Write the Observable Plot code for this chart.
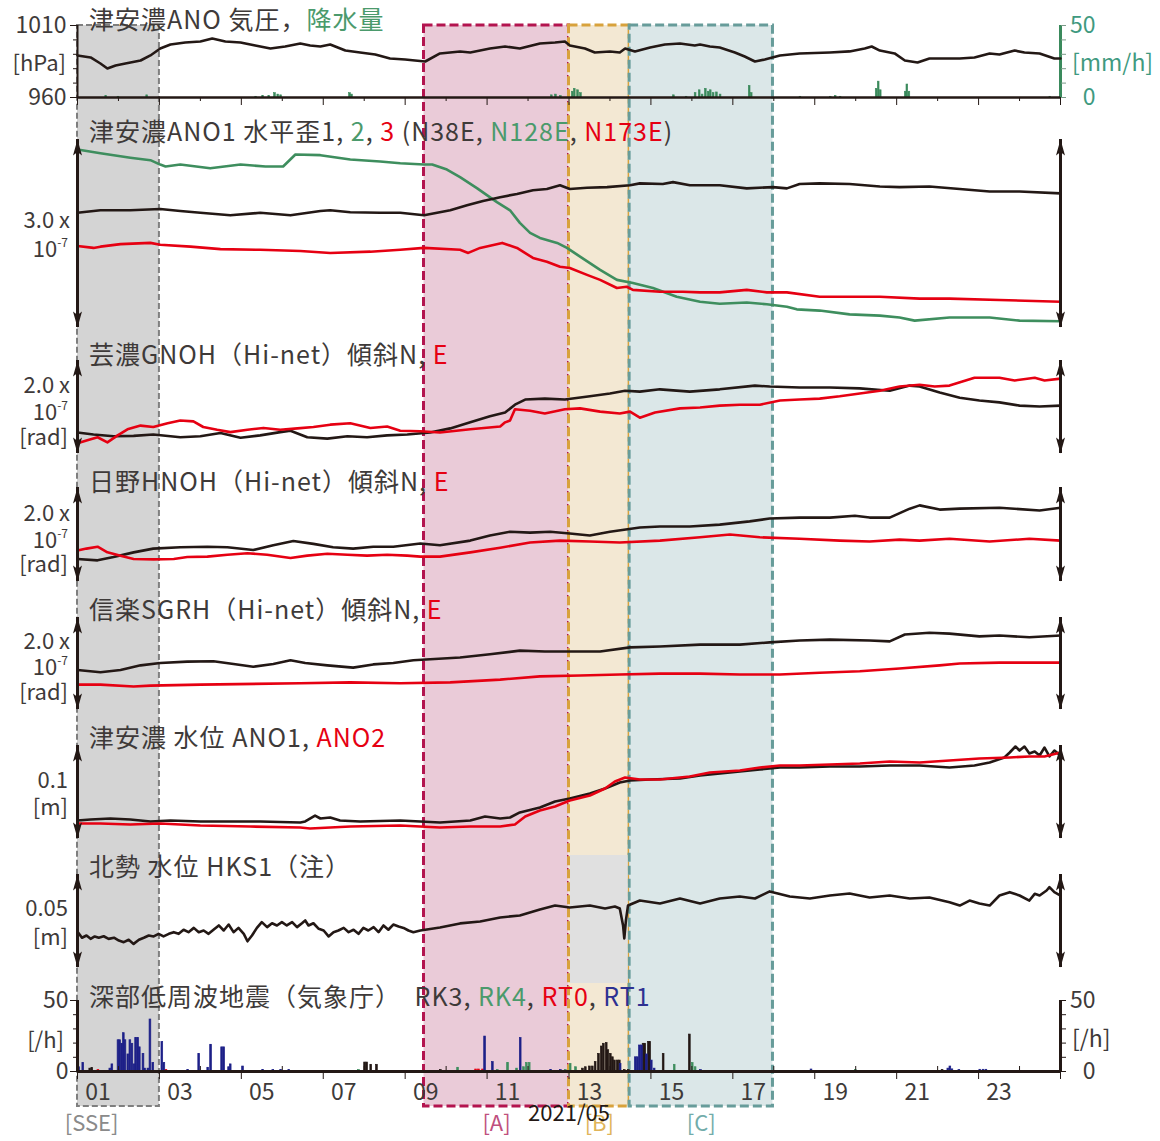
<!DOCTYPE html>
<html><head><meta charset="utf-8">
<script src="https://cdn.jsdelivr.net/npm/d3@7"></script>
<script src="https://cdn.jsdelivr.net/npm/@observablehq/plot@0.6"></script>
<style>
html,body{margin:0;padding:0;background:#fff;}
#chart{position:relative;width:1160px;height:1141px;overflow:hidden;font-family:"Noto Sans CJK JP","Noto Sans",sans-serif;color:#3e3a39;}
#chart svg{position:absolute;left:0;top:0;}
.lbl{position:absolute;white-space:nowrap;line-height:1;}
.lbl.title{letter-spacing:1px;}
.lbl sup{font-size:12px;vertical-align:baseline;position:relative;top:-10px;line-height:0;}
</style></head><body><div id="chart"></div><script>
// ---------- data (day offsets from 2021-05-01 00:00, value) ----------
const pressure = [[0,989.2],[0.32,987.8],[0.56,983.6],[0.73,980.1],[0.93,982.2],[1.17,983.6],[1.54,985.7],[1.78,989.2],[2.02,994.0],[2.27,996.8],[2.63,998.2],[3.0,998.9],[3.29,1001.0],[3.61,998.9],[3.98,998.2],[4.34,996.1],[4.71,994.0],[5.07,995.4],[5.44,997.5],[5.68,996.1],[5.93,995.4],[6.17,996.8],[6.54,992.6],[6.9,991.3],[7.27,989.9],[7.63,987.1],[8.0,986.4],[8.24,985.7],[8.49,985.0],[8.85,990.6],[9.34,991.9],[9.59,991.3],[10.07,994.0],[10.44,995.4],[10.8,994.0],[11.29,997.5],[11.66,998.2],[11.9,998.9],[12.02,996.1],[12.39,994.0],[12.63,991.3],[13.0,991.9],[13.24,991.3],[13.37,994.0],[13.61,991.9],[13.98,994.7],[14.34,996.8],[14.71,997.5],[15.07,996.1],[15.2,996.8],[15.44,995.4],[15.68,994.7],[16.05,991.3],[16.29,988.5],[16.54,985.0],[16.78,986.4],[17.15,989.2],[17.63,990.6],[18.37,991.3],[18.85,992.0],[19.22,994.0],[19.39,995.4],[19.59,992.6],[19.95,990.6],[20.2,985.7],[20.51,984.3],[20.8,987.1],[21.17,987.1],[21.54,987.1],[21.9,987.8],[22.27,990.6],[22.51,989.9],[22.88,992.6],[23.12,991.3],[23.49,990.6],[23.85,987.1],[24,987.1]];
const precipitation = [[0.68,1],[0.98,0.5],[1.68,1.5],[4.34,0.5],[4.51,1],[4.66,1],[4.8,3],[4.88,2],[4.95,1.5],[6.63,3],[6.68,2],[11.56,1.5],[11.66,2],[11.78,1],[12.07,4],[12.12,6],[12.2,5],[12.27,3],[14.54,1.5],[14.85,0.5],[15.07,3],[15.17,5],[15.24,2],[15.32,6],[15.39,4],[15.44,5],[15.51,3],[15.59,3.5],[15.68,2],[16.39,8],[16.44,3],[17.63,0.5],[18.37,0.5],[18.49,1],[18.61,0.5],[19.49,6],[19.54,11],[19.59,5],[20.2,4],[20.24,9],[20.29,4],[23.73,0.5]];

// strain (x 1e-7)
const strain1 = [[0,1.83],[0.56,1.87],[1.29,1.87],[2.02,1.89],[2.51,1.86],[3.0,1.83],[3.73,1.79],[4.46,1.83],[5.2,1.79],[5.93,1.86],[6.17,1.87],[6.66,1.84],[7.39,1.83],[7.88,1.83],[8.46,1.79],[9.1,1.87],[9.51,1.95],[9.9,2.02],[10.32,2.08],[10.73,2.13],[11.12,2.19],[11.46,2.21],[11.78,2.27],[12.02,2.21],[12.44,2.23],[12.93,2.24],[13.49,2.27],[13.73,2.30],[14.29,2.29],[14.54,2.32],[14.95,2.27],[15.68,2.27],[16.34,2.22],[16.98,2.24],[17.32,2.22],[17.63,2.29],[18.12,2.30],[18.85,2.29],[19.59,2.25],[20.07,2.24],[20.8,2.25],[21.54,2.21],[22.27,2.17],[23.0,2.17],[24,2.14]];
const strain2 = [[0,2.84],[0.56,2.78],[1.29,2.71],[1.78,2.67],[2.02,2.60],[2.15,2.57],[2.51,2.60],[3.24,2.54],[3.98,2.60],[4.59,2.57],[5.02,2.57],[5.32,2.76],[5.93,2.75],[6.66,2.68],[7.39,2.65],[7.88,2.62],[8.46,2.60],[8.66,2.60],[9.02,2.52],[9.34,2.40],[9.76,2.22],[10.24,2.0],[10.56,1.87],[10.8,1.67],[11.05,1.51],[11.29,1.43],[11.71,1.35],[11.95,1.27],[12.27,1.13],[12.76,0.92],[13.17,0.76],[13.56,0.71],[14.05,0.63],[14.63,0.49],[15.2,0.41],[15.68,0.38],[16.34,0.40],[16.83,0.37],[17.32,0.33],[17.56,0.29],[18.12,0.27],[18.85,0.21],[19.59,0.19],[20.07,0.16],[20.44,0.11],[21.29,0.16],[22.27,0.16],[23.0,0.11],[24,0.10]];
const strain3 = [[0,1.30],[0.39,1.27],[0.56,1.29],[1.05,1.33],[1.78,1.35],[2.02,1.32],[2.76,1.29],[3.49,1.25],[4.46,1.24],[5.44,1.22],[6.17,1.19],[7.15,1.21],[7.88,1.24],[8.46,1.27],[9.34,1.24],[9.54,1.19],[9.83,1.27],[10.37,1.35],[10.73,1.27],[11.12,1.11],[11.46,1.05],[11.78,0.97],[12.02,0.95],[12.44,0.84],[12.76,0.76],[13.17,0.63],[13.41,0.65],[13.56,0.60],[14.22,0.57],[14.78,0.57],[15.2,0.56],[15.68,0.56],[16.34,0.60],[16.83,0.56],[17.32,0.56],[18.12,0.49],[18.85,0.49],[19.59,0.49],[20.56,0.46],[21.29,0.46],[22.51,0.44],[24,0.41]];

// tilt (x 1e-7 rad)
const gnohN = [[0,0.45],[0.39,0.41],[0.88,0.37],[1.37,0.38],[1.85,0.41],[2.51,0.35],[3.0,0.37],[3.49,0.44],[3.98,0.34],[4.46,0.39],[4.95,0.46],[5.2,0.49],[5.61,0.35],[6.1,0.32],[6.59,0.37],[7.07,0.35],[7.56,0.39],[8.05,0.41],[8.61,0.45],[9.1,0.54],[9.59,0.67],[10.07,0.80],[10.44,0.88],[10.68,1.05],[10.93,1.16],[11.41,1.18],[11.9,1.16],[12.51,1.23],[13.0,1.29],[13.37,1.35],[13.73,1.33],[14.22,1.38],[14.95,1.33],[15.68,1.38],[16.54,1.46],[16.9,1.44],[17.63,1.42],[18.37,1.42],[19.1,1.40],[19.83,1.35],[20.32,1.46],[20.56,1.44],[21.05,1.31],[21.54,1.20],[22.02,1.14],[22.51,1.10],[23.0,1.03],[23.49,1.01],[24,1.03]];
const gnohE = [[0,0.22],[0.22,0.28],[0.49,0.35],[0.73,0.24],[0.98,0.39],[1.22,0.52],[1.54,0.60],[1.85,0.57],[2.2,0.65],[2.51,0.71],[2.83,0.69],[3.07,0.57],[3.41,0.51],[3.73,0.46],[4.15,0.51],[4.54,0.55],[4.95,0.51],[5.37,0.54],[5.76,0.57],[6.17,0.62],[6.66,0.65],[7.15,0.55],[7.56,0.58],[7.88,0.49],[8.37,0.48],[8.85,0.45],[9.59,0.52],[10.32,0.58],[10.44,0.67],[10.56,0.71],[10.68,0.95],[11.05,0.92],[11.41,0.86],[11.9,0.95],[12.27,0.97],[12.76,0.90],[13.24,0.86],[13.49,0.90],[13.73,0.77],[14.1,0.88],[14.71,0.97],[15.2,0.99],[15.68,1.03],[16.17,1.05],[16.66,1.05],[17.15,1.14],[17.63,1.16],[18.12,1.18],[18.61,1.23],[19.1,1.29],[19.59,1.35],[20.07,1.44],[20.56,1.48],[20.93,1.44],[21.29,1.46],[21.9,1.63],[22.51,1.63],[22.88,1.57],[23.37,1.63],[23.61,1.57],[24,1.61]];
const hnohN = [[0,0.48],[0.49,0.45],[0.88,0.52],[1.37,0.62],[1.85,0.70],[2.51,0.73],[3.17,0.74],[3.66,0.73],[4.29,0.67],[4.78,0.77],[5.27,0.86],[5.76,0.80],[6.24,0.73],[6.73,0.70],[7.22,0.74],[7.71,0.74],[8.37,0.81],[8.85,0.77],[9.59,0.87],[10.07,0.98],[10.56,1.06],[11.05,1.04],[11.54,1.06],[12.02,1.02],[12.51,0.98],[13.0,1.06],[13.73,1.15],[14.22,1.17],[14.95,1.17],[15.68,1.21],[16.41,1.28],[16.9,1.34],[17.63,1.36],[18.37,1.36],[18.98,1.40],[19.34,1.36],[19.83,1.36],[20.32,1.55],[20.56,1.62],[21.05,1.53],[21.54,1.55],[22.51,1.57],[23.49,1.51],[24,1.57]];
const hnohE = [[0,0.66],[0.22,0.70],[0.49,0.74],[0.73,0.62],[1.05,0.55],[1.37,0.48],[1.86,0.47],[2.35,0.48],[2.68,0.52],[3.17,0.53],[3.66,0.57],[4.15,0.60],[4.63,0.57],[5.2,0.50],[5.61,0.55],[6.1,0.59],[6.59,0.57],[7.07,0.55],[7.56,0.57],[8.05,0.55],[8.37,0.53],[8.85,0.53],[9.59,0.62],[10.32,0.72],[11.05,0.83],[11.78,0.87],[12.51,0.85],[13.24,0.83],[14.22,0.87],[15.2,0.94],[15.93,1.00],[16.66,0.94],[17.63,0.91],[18.61,0.87],[19.34,0.85],[20.07,0.89],[20.56,0.87],[21.29,0.91],[22.27,0.85],[23.24,0.91],[24,0.87]];
const sgrhN = [[0,0.86],[0.56,0.81],[1.05,0.86],[1.54,0.96],[2.02,1.01],[2.68,1.04],[3.32,1.05],[3.81,0.99],[4.29,0.93],[4.78,0.99],[5.2,1.07],[5.56,1.01],[6.1,0.96],[6.73,0.91],[7.22,0.98],[7.71,1.01],[8.2,1.07],[9.34,1.13],[10.07,1.20],[10.8,1.28],[11.41,1.26],[12.02,1.26],[12.76,1.26],[13.49,1.35],[14.22,1.37],[15.2,1.41],[16.17,1.41],[16.9,1.46],[17.63,1.50],[18.37,1.52],[19.34,1.50],[19.83,1.48],[20.2,1.63],[20.8,1.67],[21.29,1.65],[22.02,1.59],[22.51,1.61],[23.24,1.57],[24,1.61]];
const sgrhE = [[0,0.54],[0.56,0.54],[1.37,0.50],[1.78,0.52],[3.0,0.54],[5.44,0.57],[6.66,0.59],[7.88,0.57],[9.1,0.59],[10.32,0.65],[11.29,0.72],[12.27,0.74],[13.24,0.76],[14.22,0.78],[15.2,0.78],[16.17,0.76],[17.15,0.76],[18.12,0.80],[19.1,0.83],[20.07,0.89],[21.05,0.96],[21.54,1.00],[22.51,1.02],[24,1.02]];

// water level (mm)
const ano1 = [[0,19.4],[0.32,20.4],[0.8,21.5],[1.29,20.4],[1.78,18.3],[2.27,19.4],[3.0,18.3],[3.73,18.3],[4.46,18.3],[5.44,17.2],[5.56,18.3],[5.8,24.7],[5.93,21.5],[6.17,22.6],[6.41,19.4],[6.9,18.3],[7.88,19.4],[8.37,18.3],[8.85,17.2],[9.59,19.4],[9.95,23.7],[10.32,21.5],[10.56,22.6],[10.8,28.0],[11.29,33.3],[11.66,39.8],[12.02,43.0],[12.51,48.4],[12.88,53.8],[13.24,60.2],[13.49,62.4],[13.98,63.4],[14.71,64.5],[15.2,67.7],[15.93,71.0],[16.66,74.2],[17.15,76.3],[17.63,76.3],[18.37,77.4],[19.1,77.4],[19.83,78.5],[20.56,78.5],[21.29,76.3],[21.9,78.5],[22.27,81.7],[22.63,87.1],[22.76,92.5],[22.9,98.9],[23.0,94.6],[23.12,98.9],[23.24,91.4],[23.37,93.5],[23.49,89.2],[23.61,97.8],[23.73,88.2],[23.85,94.6],[24,89.2]];
const ano2 = [[0,16.1],[0.56,16.1],[1.29,15.1],[2.02,16.1],[3.0,14.0],[4.22,12.9],[5.44,11.8],[5.68,10.8],[6.66,12.9],[7.88,14.0],[8.37,12.9],[8.85,11.8],[9.59,12.9],[10.32,12.9],[10.68,15.1],[10.93,23.7],[11.29,30.1],[11.66,34.4],[12.02,40.9],[12.51,46.2],[12.88,53.8],[13.12,61.3],[13.37,65.6],[13.73,63.4],[14.22,63.4],[14.95,66.7],[15.44,71.0],[16.17,73.1],[16.66,76.3],[17.15,78.5],[17.63,78.5],[18.37,79.6],[19.1,80.6],[19.83,82.8],[20.56,81.7],[21.29,83.9],[22.02,86.0],[22.76,87.1],[23.24,88.2],[23.61,88.2],[24,92.5]];
const hks1 = [[0.01,19.0],[0.11,16.0],[0.22,17.2],[0.32,15.4],[0.42,16.7],[0.52,16.0],[0.64,16.8],[0.76,15.4],[0.89,16.0],[1.01,14.5],[1.13,13.6],[1.25,14.9],[1.37,12.7],[1.5,14.9],[1.62,16.0],[1.74,17.2],[1.86,16.7],[1.98,18.1],[2.1,16.7],[2.23,18.1],[2.35,19.0],[2.47,18.1],[2.59,20.3],[2.71,19.0],[2.84,21.3],[2.96,19.0],[3.08,19.9],[3.2,18.1],[3.32,20.3],[3.45,22.6],[3.57,19.9],[3.69,23.1],[3.81,19.0],[3.93,21.3],[4.06,18.1],[4.15,14.1],[4.26,17.2],[4.38,21.3],[4.5,24.4],[4.63,21.7],[4.75,23.8],[4.87,22.6],[4.99,24.4],[5.11,22.6],[5.24,24.4],[5.36,21.7],[5.48,23.8],[5.56,25.3],[5.64,22.6],[5.76,23.8],[5.89,20.8],[6.01,19.9],[6.13,16.7],[6.25,19.0],[6.37,19.9],[6.5,21.3],[6.62,19.0],[6.74,20.3],[6.86,18.1],[6.98,21.3],[7.1,19.9],[7.23,21.7],[7.35,19.0],[7.47,22.6],[7.59,20.3],[7.71,23.1],[7.84,22.0],[7.96,21.3],[8.08,19.9],[8.2,19.0],[8.37,19.9],[8.85,21.5],[9.34,23.7],[9.83,24.7],[10.32,26.9],[10.8,28.0],[11.29,31.2],[11.66,33.3],[12.02,32.3],[12.51,33.3],[12.88,31.7],[13.12,32.8],[13.24,31.7],[13.32,22.6],[13.35,15.6],[13.39,25.3],[13.44,33.3],[13.73,36.0],[14.22,34.4],[14.71,37.1],[15.2,34.4],[15.68,37.1],[16.17,38.2],[16.54,37.1],[16.9,40.9],[17.39,38.2],[17.88,37.1],[18.37,38.7],[18.85,39.8],[19.34,37.6],[19.83,38.7],[20.32,37.1],[20.8,37.6],[21.29,35.1],[21.54,33.3],[21.78,36.0],[22.02,34.4],[22.27,33.3],[22.51,38.7],[22.76,40.5],[23.0,38.7],[23.24,36.0],[23.37,39.6],[23.49,38.7],[23.66,41.4],[23.73,43.2],[23.85,40.5],[24,38.7]];

// deep low-frequency earthquakes per hour
const lfeRK3 = [[0.29,2],[0.34,2.5],[7.0,6.3],[7.05,6.3],[7.15,4.7],[7.29,4.7],[8.85,1],[12.32,2],[12.39,3],[12.49,3.5],[12.56,3.5],[12.63,6.6],[12.71,12.4],[12.78,17.6],[12.83,19.5],[12.9,20],[12.94,15],[13.0,12.4],[13.05,10],[13.1,7.7],[13.17,7.7],[13.22,7.7],[13.34,1],[13.44,1],[13.8,19.5],[13.84,19.5],[13.93,20.7],[13.96,20.7],[14.29,12.4],[14.93,26],[21.1,1]];
const lfeRK4 = [[6.85,1],[9.27,2.6],[10.24,1],[10.49,6],[10.71,2],[10.88,3],[10.95,6],[11.02,6],[11.9,1],[12.02,5.4],[12.15,3],[14.56,4.7],[15.0,5.9],[15.07,3],[18.98,1]];
const lfeRT0 = [[0.49,1],[2.15,1],[9.71,1.4],[9.78,1.4],[9.88,1.4]];
const lfeRT1 = [[0.02,3],[0.12,6],[0.78,2],[0.83,5],[0.98,22],[1.02,22],[1.07,19.5],[1.11,27],[1.15,22],[1.22,12],[1.27,22],[1.32,19.5],[1.37,5],[1.41,23.5],[1.46,23.5],[1.5,17],[1.59,12.4],[1.63,2],[1.71,2],[1.76,36.6],[1.83,6],[2.05,20.7],[2.1,6],[2.68,1],[2.95,12.4],[3.17,2.6],[3.24,18.8],[3.51,17],[3.56,17],[3.68,3],[3.72,5],[4.02,3.5],[4.51,1],[4.76,1],[4.95,1],[5.15,1],[9.93,24.6],[10.12,6.6],[10.8,23.5],[11.54,1],[11.78,1],[13.24,5.4],[13.61,10],[13.66,10],[13.71,18.3],[13.76,18.3],[13.88,12],[14.0,7.7],[14.07,2],[15.2,1],[17.9,1.4],[21.24,2],[21.29,3.5],[21.34,1.5],[21.51,1],[22.02,1.2],[22.1,1.2],[22.17,1.2]];

// periods
const regionName = ["[SSE]", "[A]", "[B]", "[C]"];
const regionStart = [0, 8.46, 12.0, 13.48];
const regionEnd = [2.0, 12.0, 13.48, 16.98];

// ticks
const majorDays = d3.range(0, 25, 2);
const minorDays = d3.range(1, 24, 2);
const labelDays = d3.range(0.5, 23, 2);

// ---------- styles ----------
const BLACK = "#231815", RED = "#e60012", GREEN = "#3e8e5e", BLUE = "#1d2088", TEXT = "#3e3a39";
const PRECIP = "#3a8a5c", TEAL = "#3f9a80";
const regionStyle = [
  {fill: "#d4d4d4", stroke: "#7f7f7f", sw: 2, dash: "6,3", label: "#8a8a8a"},
  {fill: "#eacbd8", stroke: "#b3144f", sw: 3, dash: "9,4", label: "#c0507e"},
  {fill: "#f3e8d3", stroke: "#d8a23c", sw: 3, dash: "9,4", label: "#e0b45a"},
  {fill: "#dbe7e8", stroke: "#679c9a", sw: 3, dash: "9,4", label: "#72acaa"}
];
const FONT = '"Noto Sans CJK JP","Noto Sans",sans-serif';
const W = 1160, H = 1141;
const T0 = Date.UTC(2021, 4, 1);
const dt = d => new Date(T0 + d * 864e5);
const X = d => dt(d[0]), Y = d => d[1], X2 = d => dt(d[0] + 1 / 24);
const chart = document.getElementById("chart");

function addPlot({top = 0, bottom = H, y, marks}) {
  const opts = {
    width: W, height: H, marginLeft: 77, marginRight: 100,
    marginTop: top, marginBottom: H - bottom,
    x: {type: "utc", domain: [dt(0), dt(24)], axis: null},
    style: {background: "transparent", overflow: "visible", fontFamily: FONT, fontSize: "23px", color: TEXT},
    marks
  };
  if (y) opts.y = Object.assign({axis: null}, y);
  chart.appendChild(Plot.plot(opts));
}
function addLabel(html, x, cy, align, color, size, cls) {
  const el = document.createElement("div");
  el.className = "lbl" + (cls ? " " + cls : "");
  el.innerHTML = html;
  el.style.fontSize = size + "px";
  el.style.top = (cy - size * 0.56) + "px";
  if (align === "right") el.style.right = (W - x) + "px"; else el.style.left = x + "px";
  el.style.color = color;
  chart.appendChild(el);
}
const headSym = {draw(ctx) { ctx.moveTo(0, 0); ctx.lineTo(4.5, 16); ctx.lineTo(0, 12.5); ctx.lineTo(-4.5, 16); ctx.closePath(); }};
function scaleBar(top) {
  const ends = [dt(0), dt(24)];
  return [
    Plot.ruleX(ends, {x: d => d, y1: 0, y2: top, stroke: BLACK, strokeWidth: 3}),
    Plot.dot(ends, {x: d => d, y: top, symbol: headSym, fill: BLACK, stroke: "none", r: 5}),
    Plot.dot(ends, {x: d => d, y: 0, symbol: headSym, rotate: 180, fill: BLACK, stroke: "none", r: 5})
  ];
}
const line = (data, color) => Plot.line(data, {x: X, y: Y, stroke: color, strokeWidth: 2.6, strokeLinejoin: "round"});
const plain = d => String(d);

// ---------- shaded periods (full height) ----------
addPlot({top: 25, bottom: 1106, marks: [
  ...regionName.map((n, i) => Plot.rect([i], {
    x1: () => dt(regionStart[i]), x2: () => dt(regionEnd[i]),
    fill: regionStyle[i].fill, stroke: regionStyle[i].stroke,
    strokeWidth: regionStyle[i].sw, strokeDasharray: regionStyle[i].dash
  })),
  ...regionName.map((n, i) => Plot.text([n], {
    x: () => dt(i === 0 ? 1 : (regionStart[i] + regionEnd[i]) / 2), text: d => d,
    frameAnchor: "bottom", lineAnchor: "middle", dy: 17, textAnchor: i === 0 ? "end" : "middle",
    fill: regionStyle[i].label, fontSize: 22
  })),
  Plot.text(["2021/05"], {x: () => dt(12), text: d => d, frameAnchor: "bottom", lineAnchor: "middle", dy: 7, fill: "#231815", fontSize: 22})
]});

// ---------- panel 1: precipitation (right axis) ----------
addPlot({top: 25, bottom: 97, y: {domain: [0, 50]}, marks: [
  Plot.rect(precipitation, {x1: X, x2: X2, y1: 0, y2: Y, fill: PRECIP, stroke: PRECIP, strokeWidth: 0.6}),
  Plot.ruleX([dt(24)], {stroke: PRECIP, strokeWidth: 3}),
  Plot.axisY({anchor: "right", ticks: [0, 10, 20, 30, 40, 50], tickSize: 5, tickFormat: () => "", stroke: "#7a9a88"}),
  Plot.text([0, 50], {x: () => dt(24), y: d => d, text: plain, textAnchor: "end", dx: 35, fill: TEAL, fontSize: 23})
]});
// ---------- panel 1: pressure ----------
addPlot({top: 25, bottom: 97, y: {domain: [960, 1010]}, marks: [
  line(pressure, BLACK),
  Plot.ruleX([dt(0)], {stroke: BLACK, strokeWidth: 2}),
  Plot.axisY({ticks: [960, 1010], tickSize: 7, tickPadding: 4, tickFormat: plain, stroke: BLACK, fill: TEXT}),
  Plot.axisY({ticks: [970, 980, 990, 1000], tickSize: 4, tickFormat: () => "", stroke: BLACK}),
  Plot.ruleY([960], {stroke: BLACK, strokeWidth: 2.5}),
  Plot.axisX({ticks: majorDays.map(dt), tickSize: 8, tickFormat: () => "", stroke: BLACK}),
  Plot.axisX({ticks: minorDays.map(dt), tickSize: 4, tickFormat: () => "", stroke: BLACK})
]});

// ---------- panel 2: strain ----------
addPlot({top: 110, bottom: 340, y: {domain: [0, 3.0], range: [327, 139]}, marks: [
  line(strain2, GREEN), line(strain1, BLACK), line(strain3, RED), ...scaleBar(3.0)
]});
// ---------- panels 3-5: tilt ----------
addPlot({top: 345, bottom: 465, y: {domain: [0, 2.0], range: [453, 360]}, marks: [
  line(gnohN, BLACK), line(gnohE, RED), ...scaleBar(2.0)
]});
addPlot({top: 472, bottom: 595, y: {domain: [0, 2.0], range: [581, 487]}, marks: [
  line(hnohN, BLACK), line(hnohE, RED), ...scaleBar(2.0)
]});
addPlot({top: 600, bottom: 722, y: {domain: [0, 2.0], range: [709, 617]}, marks: [
  line(sgrhN, BLACK), line(sgrhE, RED), ...scaleBar(2.0)
]});
// ---------- panel 6: ANO water level ----------
addPlot({top: 728, bottom: 850, y: {domain: [0, 100], range: [838, 745]}, marks: [
  line(ano1, BLACK), line(ano2, RED), ...scaleBar(100)
]});
// ---------- panel 7: HKS1 water level ----------
addPlot({top: 855, bottom: 983, y: {domain: [0, 50], range: [967, 874]}, marks: [
  Plot.rect([2], {x1: () => dt(regionStart[2]), x2: () => dt(regionEnd[2]), fill: "#e0e0e0", insetLeft: 1.5, insetRight: 1.5}),
  line(hks1, BLACK), ...scaleBar(50)
]});
// ---------- panel 8: LFE ----------
const bars = (data, color) => Plot.rect(data, {x1: X, x2: X2, y1: 0, y2: Y, fill: color, stroke: color, strokeWidth: 0.7});
addPlot({top: 1000, bottom: 1071, y: {domain: [0, 50]}, marks: [
  bars(lfeRK4, GREEN), bars(lfeRT0, RED), bars(lfeRK3, BLACK), bars(lfeRT1, BLUE),
  Plot.ruleX([dt(0), dt(24)], {x: d => d, stroke: BLACK, strokeWidth: 3}),
  Plot.axisY({ticks: [0, 50], tickSize: 7, tickPadding: 2, tickFormat: plain, stroke: BLACK, fill: TEXT}),
  Plot.axisY({ticks: [10, 20, 30, 40], tickSize: 4, tickFormat: () => "", stroke: BLACK}),
  Plot.axisY({anchor: "right", ticks: [0, 10, 20, 30, 40, 50], tickSize: 5, tickFormat: () => "", stroke: BLACK}),
  Plot.text([0, 50], {x: () => dt(24), y: d => d, text: plain, textAnchor: "end", dx: 35, fill: TEXT, fontSize: 23}),
  Plot.ruleY([0], {stroke: BLACK, strokeWidth: 3}),
  Plot.axisX({ticks: majorDays.map(dt), tickSize: 8, tickFormat: () => "", stroke: BLACK}),
  Plot.axisX({ticks: minorDays.map(dt), tickSize: -5, tickFormat: () => "", stroke: BLACK}),
  Plot.axisX({ticks: labelDays.map(dt), tickSize: 0, tickPadding: 12, tickFormat: d3.utcFormat("%d"), fill: TEXT, fontSize: 23})
]});

// ---------- text ----------
const g = s => `<span style="color:#4b9a6c">${s}</span>`;
const r = s => `<span style="color:${RED}">${s}</span>`;
const b = s => `<span style="color:#2e3192">${s}</span>`;
const titles = [
  [`津安濃ANO 気圧，${g("降水量")}`, 20],
  [`津安濃ANO1 水平歪1, ${g("2")}, ${r("3")} (N38E, ${g("N128E")}, ${r("N173E")})`, 132],
  [`芸濃GNOH（Hi-net）傾斜N, ${r("E")}`, 355],
  [`日野HNOH（Hi-net）傾斜N, ${r("E")}`, 482],
  [`信楽SGRH（Hi-net）傾斜N, ${r("E")}`, 610],
  [`津安濃 水位 ANO1, ${r("ANO2")}`, 738],
  [`北勢 水位 HKS1（注）`, 867],
  [`深部低周波地震（気象庁）　RK3, ${g("RK4")}, ${r("RT0")}, ${b("RT1")}`, 997]
];
titles.forEach(([t, cy]) => addLabel(t, 89, cy, "left", TEXT, 25, "title"));
const e7 = "10<sup>-7</sup>";
const leftLabels = [
  ["[hPa]", 66, 62], ["3.0 x", 70, 219], [e7, 68, 248],
  ["2.0 x", 70, 384.5], [e7, 68, 411], ["[rad]", 68, 436],
  ["2.0 x", 70, 512.5], [e7, 68, 539.5], ["[rad]", 68, 563.5],
  ["2.0 x", 70, 640], [e7, 68, 666.5], ["[rad]", 68, 691],
  ["0.1", 68, 779.5], ["[m]", 68, 806],
  ["0.05", 68, 907.5], ["[m]", 68, 936],
  ["[/h]", 64, 1039]
];
leftLabels.forEach(([t, x, cy]) => addLabel(t, x, cy, "right", TEXT, 22));
addLabel("[mm/h]", 1072, 63, "left", TEAL, 23);
addLabel("[/h]", 1072, 1039, "left", TEXT, 23);
</script></body></html>
